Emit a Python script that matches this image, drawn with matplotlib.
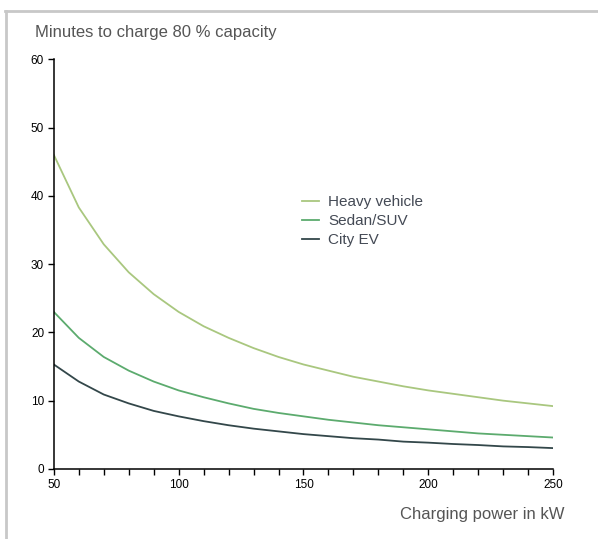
import matplotlib
matplotlib.use("Agg")
import matplotlib.pyplot as plt
from matplotlib.lines import Line2D

plt.rcParams['font.family'] = ['Liberation Sans', 'DejaVu Sans']

# charging power (kW) and minutes to 80 %
power = [50, 60, 70, 80, 90, 100, 110, 120, 130, 140, 150,
         160, 170, 180, 190, 200, 210, 220, 230, 240, 250]
heavy = [46.0, 38.3, 32.9, 28.8, 25.6, 23.0, 20.9, 19.2, 17.7, 16.4, 15.3,
         14.4, 13.5, 12.8, 12.1, 11.5, 11.0, 10.5, 10.0, 9.6, 9.2]
sedan = [23.0, 19.2, 16.4, 14.4, 12.8, 11.5, 10.5, 9.6, 8.8, 8.2, 7.7,
         7.2, 6.8, 6.4, 6.1, 5.8, 5.5, 5.2, 5.0, 4.8, 4.6]
city = [15.3, 12.8, 10.9, 9.6, 8.5, 7.7, 7.0, 6.4, 5.9, 5.5, 5.1,
        4.8, 4.5, 4.3, 4.0, 3.85, 3.65, 3.5, 3.3, 3.2, 3.05]

names = ['Heavy vehicle', 'Sedan/SUV', 'City EV']
colors = ['#a9c77f', '#5cab6e', '#33474a']

fig = plt.figure(figsize=(5.98, 5.39), dpi=100)
ax = fig.add_axes([0.090, 0.130, 0.835, 0.760])

for ys, name, c in zip([heavy, sedan, city], names, colors):
    ax.plot(power, ys, color=c, lw=1.3, label=name)

ax.set_xlim(50, 250)
ax.set_ylim(0, 60)
ax.set_xticks(range(50, 251, 10))
ax.set_xticklabels([str(p) if p % 50 == 0 else '' for p in range(50, 251, 10)])
ax.set_yticks(range(0, 61, 10))
ax.tick_params(axis='both', direction='out', length=4, width=1, labelsize=8.5,
               pad=3, colors='black')

for s in ['top', 'right']:
    ax.spines[s].set_visible(False)
for s in ['left', 'bottom']:
    ax.spines[s].set_linewidth(1.1)

leg = ax.legend(loc='upper left', bbox_to_anchor=(0.497, 0.668), frameon=False,
                fontsize=11, handlelength=1.1, handletextpad=0.6,
                labelspacing=0.33, borderpad=0, borderaxespad=0)
for t in leg.get_texts():
    t.set_color('#444a55')

fig.text(35 / 598, 1 - 32 / 539, 'Minutes to charge 80 % capacity',
         fontsize=12, color='#555555', va='center', ha='left')
fig.text(565 / 598, 1 - 514 / 539, 'Charging power in kW',
         fontsize=12, color='#555555', va='center', ha='right')

# light grey frame on the top and left edges
fig.add_artist(Line2D([5 / 598, 1], [1 - 11 / 539, 1 - 11 / 539],
                      color='#c8c8c8', lw=2, transform=fig.transFigure))
fig.add_artist(Line2D([6 / 598, 6 / 598], [0, 1 - 11 / 539],
                      color='#c8c8c8', lw=2, transform=fig.transFigure))

fig.savefig('out.png', dpi=100)
